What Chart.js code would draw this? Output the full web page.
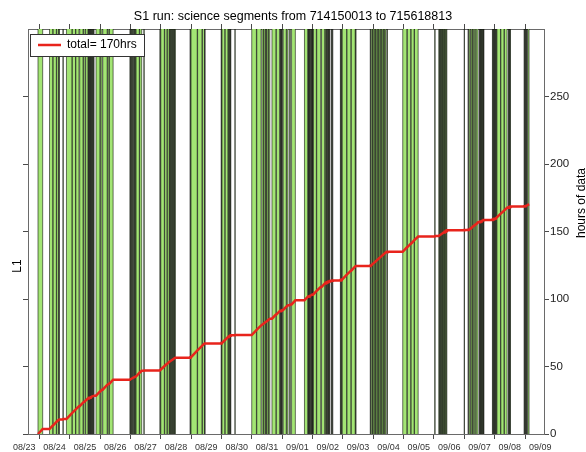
<!DOCTYPE html>
<html>
<head>
<meta charset="utf-8">
<title>S1 run: science segments</title>
<script src="https://cdn.jsdelivr.net/npm/chart.js@4.4.1/dist/chart.umd.min.js"></script>
<style>
  html, body { margin: 0; padding: 0; background: #ffffff; }
  #wrap { width: 586px; height: 452px; }
</style>
</head>
<body>
<div id="wrap"><canvas id="segChart" width="586" height="452"></canvas></div>
<script>
// GPS span of the S1 run
const runStartGps = 714150013;
const runEndGps = 715618813;
const runHours = (runEndGps - runStartGps) / 3600;   // 408 h
const runStartHourOfDay = 15;                          // run begins 08/23 15:00

// L1 science segments, [start, end] in hours since the start of the run
const scienceSegments = [
  [7.9, 11.6], [17.0, 19.6], [19.8, 22.4], [22.7, 24.1], [24.4, 24.9], [27.6, 27.9],
  [30.4, 34.8], [35.0, 37.6], [37.8, 40.3], [40.9, 43.5], [43.9, 45.2], [45.6, 47.4],
  [47.7, 48.0], [48.4, 48.7], [49.1, 49.4], [49.8, 50.1], [50.5, 50.8], [51.2, 51.5], [51.9, 52.2],
  [53.8, 56.9], [57.2, 58.5], [59.1, 62.6], [63.0, 64.0], [64.4, 67.3],
  [80.6, 80.9], [81.3, 81.6], [82.0, 82.5], [82.9, 83.3], [83.8, 84.2], [84.6, 85.1],
  [85.4, 88.0], [88.3, 89.9], [91.6, 91.9],
  [104.3, 104.6], [105.0, 107.8], [108.1, 109.9], [110.2, 111.6],
  [111.9, 112.4], [112.7, 113.3], [113.6, 114.1], [114.4, 115.0], [115.3, 115.8], [116.1, 116.5],
  [128.1, 128.5], [128.9, 133.8], [134.1, 137.6], [137.9, 139.5], [139.8, 140.0],
  [152.7, 153.0], [153.4, 155.6], [155.9, 158.1], [158.4, 158.9], [159.3, 159.8], [160.1, 160.4], [163.6, 163.8],
  [176.9, 180.6], [180.9, 184.3],
  [185.0, 186.2], [186.5, 187.6], [187.9, 188.6], [188.9, 190.0], [190.3, 191.2],
  [192.9, 196.0], [196.4, 198.9], [199.5, 199.8], [200.1, 200.4], [200.8, 201.1],
  [201.8, 204.2], [204.6, 205.6], [206.8, 207.5], [208.4, 211.4],
  [218.6, 221.2], [221.5, 221.8], [222.2, 222.5], [222.9, 223.2], [223.7, 224.0], [224.4, 224.7],
  [225.0, 225.3], [225.6, 228.0], [228.3, 231.4],
  [232.1, 234.6], [235.0, 235.6], [236.0, 236.4], [236.9, 237.2], [237.6, 237.9], [238.4, 238.7],
  [239.9, 240.1], [240.8, 241.0],
  [247.0, 247.3], [247.7, 248.1], [248.4, 251.9], [252.2, 255.3], [255.6, 258.7], [259.0, 259.4],
  [270.6, 270.9],
  [271.4, 272.4], [272.6, 273.6], [273.8, 274.8], [275.0, 276.0], [276.2, 277.2], [277.4, 278.4],
  [278.6, 279.6], [279.8, 280.8], [281.0, 282.0], [282.2, 283.1], [283.9, 284.2],
  [296.3, 299.6], [299.9, 302.6], [302.9, 305.3], [305.6, 308.5], [321.6, 321.9],
  [324.8, 325.3], [325.6, 326.1], [326.4, 327.0], [327.3, 327.8], [328.1, 328.7], [329.0, 329.5],
  [329.8, 330.4], [330.7, 331.2],
  [344.9, 345.1],
  [348.0, 348.2], [348.8, 349.8], [350.3, 351.2], [351.5, 352.5], [352.8, 354.0], [354.4, 355.8],
  [356.8, 357.1], [357.5, 357.8], [358.2, 358.5], [358.9, 359.2], [359.6, 359.9], [360.2, 360.5],
  [367.2, 367.5], [367.9, 368.2], [368.6, 368.9], [369.3, 369.6], [370.0, 370.4],
  [370.8, 373.6], [373.9, 376.4], [376.7, 378.8],
  [379.8, 380.1], [380.5, 380.8], [381.2, 381.5],
  [392.3, 392.5], [393.0, 393.2], [393.7, 393.9], [394.4, 394.6], [395.2, 396.2]
];

// calendar day labels, one per day of the run
const dayLabels = ['08/23', '08/24', '08/25', '08/26', '08/27', '08/28', '08/29', '08/30', '08/31',
                   '09/01', '09/02', '09/03', '09/04', '09/05', '09/06', '09/07', '09/08', '09/09'];

// accumulated-hours axis
const hourTicks = [0, 50, 100, 150, 200, 250];
const hoursAxisMax = 300;

// ---- derived series -------------------------------------------------------
const segmentBars = scienceSegments.map(([s, e]) => ({ x: [s, e], y: 'L1' }));
const edgeBars = [];
scienceSegments.forEach(([s, e]) => {
  edgeBars.push({ x: [s, s], y: 'L1' });
  edgeBars.push({ x: [e, e], y: 'L1' });
});
const accumulated = [];
let totalHours = 0;
scienceSegments.forEach(([s, e]) => {
  accumulated.push({ x: s, y: totalHours });
  totalHours += e - s;
  accumulated.push({ x: e, y: totalHours });
});
const legendText = 'total= ' + Math.round(totalHours) + 'hrs';

// ---- styling ---------------------------------------------------------------
const FONT = "'Liberation Sans', Arial, Helvetica, sans-serif";
const NARROW = "'Liberation Sans Narrow', 'Liberation Sans', Arial, sans-serif";
const frameColor = '#6a6a6a';
const tickMarkColor = '#4a4a4a';
const segmentGreen = 'rgb(163, 229, 116)';
const edgeColor = 'rgba(0, 0, 0, 0.55)';
const lineRed = 'rgb(232, 36, 28)';
const clear = 'rgba(0,0,0,0)';

const firstMidnight = 24 - runStartHourOfDay;
const firstNoon = 12 - runStartHourOfDay;

function midnightTicks() {
  const t = [];
  for (let h = firstMidnight; h <= runHours; h += 24) t.push({ value: h, midnight: true });
  return t;
}
function dateTicks() {
  const t = midnightTicks();
  dayLabels.forEach((lab, k) => t.push({ value: firstNoon + 24 * k, dayLabel: lab }));
  t.sort((a, b) => a.value - b.value);
  return t;
}

// keep the legend inside the plot frame, with a white framed box behind it
const legendFrame = {
  id: 'legendFrame',
  afterLayout(chart) {
    const lg = chart.legend;
    const a = chart.chartArea;
    if (!lg) return;
    const h = lg.bottom - lg.top;
    lg.top = a.top;
    lg.bottom = a.top + h;
    lg.left = a.left;
  },
  afterDatasetsDraw(chart) {
    const lg = chart.legend;
    if (!lg || !lg.legendHitBoxes || !lg.legendHitBoxes.length) return;
    const hb = lg.legendHitBoxes[0];
    const cy = hb.top + hb.height / 2;
    const x0 = Math.round(hb.left - 8) + 0.5;
    const x1 = Math.round(hb.left + hb.width + 7) + 0.5;
    const y0 = Math.round(cy - 11) + 0.5;
    const y1 = Math.round(cy + 11) + 0.5;
    const ctx = chart.ctx;
    ctx.save();
    ctx.fillStyle = '#ffffff';
    ctx.fillRect(x0, y0, x1 - x0, y1 - y0);
    ctx.strokeStyle = '#333333';
    ctx.lineWidth = 1;
    ctx.strokeRect(x0, y0, x1 - x0, y1 - y0);
    ctx.restore();
    lg.draw();
  }
};

// rotated axis names
const axisNames = {
  id: 'axisNames',
  afterDraw(chart) {
    const a = chart.chartArea;
    const ctx = chart.ctx;
    ctx.save();
    ctx.fillStyle = '#000000';
    ctx.font = '12px ' + FONT;
    ctx.textAlign = 'center';
    ctx.textBaseline = 'alphabetic';
    ctx.save();
    ctx.translate(a.left - 7, a.top + 237);
    ctx.rotate(-Math.PI / 2);
    ctx.fillText('L1', 0, 0);
    ctx.restore();
    ctx.save();
    ctx.translate(a.right + 41, a.top + 174);
    ctx.rotate(-Math.PI / 2);
    ctx.fillText('hours of data', 0, 0);
    ctx.restore();
    ctx.restore();
  }
};

new Chart(document.getElementById('segChart'), {
  type: 'bar',
  data: {
    datasets: [
      {
        type: 'line', label: legendText, data: accumulated, indexAxis: 'x',
        xAxisID: 'x', yAxisID: 'yR',
        borderColor: lineRed, backgroundColor: lineRed, borderWidth: 2.5,
        pointRadius: 0, tension: 0, fill: false, order: 0
      },
      {
        type: 'bar', label: 'segment edges', data: edgeBars, indexAxis: 'y',
        xAxisID: 'x', yAxisID: 'yc',
        backgroundColor: edgeColor, borderWidth: 0, inflateAmount: 0.5,
        grouped: false, barPercentage: 1, categoryPercentage: 1, order: 1
      },
      {
        type: 'bar', label: 'science segments', data: segmentBars, indexAxis: 'y',
        xAxisID: 'x', yAxisID: 'yc',
        backgroundColor: segmentGreen, borderWidth: 0, inflateAmount: 0,
        grouped: false, barPercentage: 1, categoryPercentage: 1, order: 2
      }
    ]
  },
  options: {
    indexAxis: 'y',
    responsive: false,
    animation: false,
    devicePixelRatio: 1,
    events: [],
    layout: { padding: 0 },
    scales: {
      x: {
        type: 'linear', axis: 'x', position: 'bottom', min: 0, max: runHours,
        offset: false, z: 1, beginAtZero: false,
        afterBuildTicks: s => { s.ticks = dateTicks(); },
        afterFit: s => { s.height = 18; },
        grid: {
          drawOnChartArea: false, offset: false, tickLength: 5, tickWidth: 1,
          tickColor: c => (c.tick && c.tick.midnight) ? tickMarkColor : clear
        },
        border: { display: true, color: frameColor, width: 1 },
        ticks: {
          autoSkip: false, maxRotation: 0, minRotation: 0, padding: 3.5,
          color: '#333333', font: { family: NARROW, size: 9 },
          callback: (v, i, ts) => ts[i].midnight ? '' : ts[i].dayLabel
        }
      },
      xTop: {
        type: 'linear', axis: 'x', position: 'top', min: 0, max: runHours,
        offset: false, z: 1,
        afterBuildTicks: s => { s.ticks = midnightTicks(); },
        afterFit: s => {
          const tb = s.chart.titleBlock;
          s.height = Math.max(0, 29 - (tb ? tb.height : 0));
        },
        grid: { drawOnChartArea: false, offset: false, tickLength: 5, tickColor: tickMarkColor },
        border: { display: true, color: frameColor, width: 1 },
        ticks: { display: false }
      },
      yL: {
        type: 'linear', axis: 'y', position: 'left', min: 0, max: hoursAxisMax,
        offset: false, z: 1,
        afterBuildTicks: s => { s.ticks = hourTicks.map(v => ({ value: v })); },
        afterFit: s => { s.width = 28; },
        grid: { drawOnChartArea: false, offset: false, tickLength: 5, tickColor: tickMarkColor },
        border: { display: true, color: frameColor, width: 1 },
        ticks: { callback: () => '' }
      },
      yR: {
        type: 'linear', axis: 'y', position: 'right', min: 0, max: hoursAxisMax,
        offset: false, z: 1,
        afterBuildTicks: s => { s.ticks = hourTicks.map(v => ({ value: v })); },
        afterFit: s => { s.width = 42; },
        grid: { drawOnChartArea: false, offset: false, tickLength: 5, tickColor: tickMarkColor },
        border: { display: true, color: frameColor, width: 1 },
        ticks: { padding: 1, color: '#222222', font: { family: FONT, size: 11.5 } }
      },
      yc: {
        type: 'category', axis: 'y', labels: ['L1'], offset: true, display: false
      }
    },
    plugins: {
      title: {
        display: true,
        text: 'S1 run: science segments from ' + runStartGps + ' to ' + runEndGps,
        color: '#000000',
        font: { family: FONT, size: 12.5, weight: 'normal' },
        padding: { top: 8.7, bottom: 0 }
      },
      legend: {
        display: true, position: 'chartArea', align: 'start',
        labels: {
          usePointStyle: true, pointStyle: 'line', pointStyleWidth: 23, padding: 10,
          color: '#000000', font: { family: FONT, size: 12 },
          filter: item => item.datasetIndex === 0
        }
      },
      tooltip: { enabled: false }
    }
  },
  plugins: [legendFrame, axisNames]
});
</script>
</body>
</html>
